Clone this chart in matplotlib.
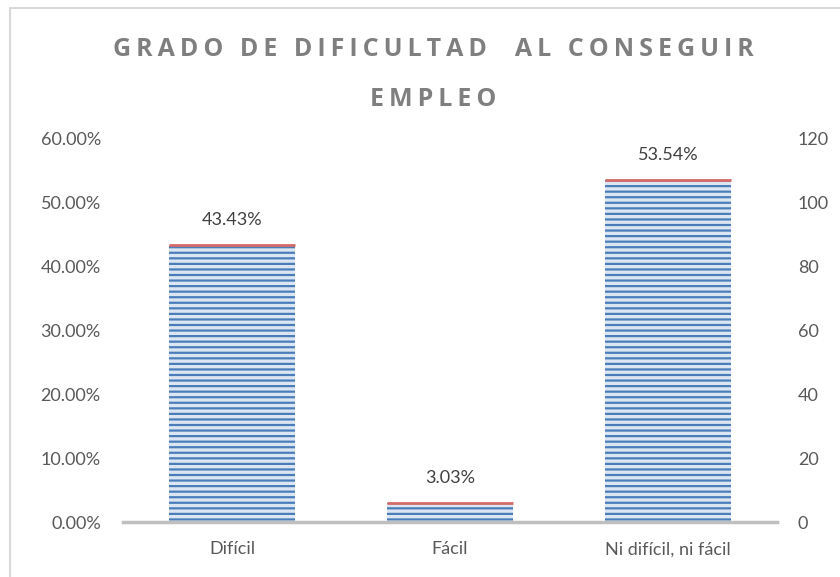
import numpy as np
import matplotlib.pyplot as plt
from matplotlib.patches import Rectangle
from matplotlib.ticker import FuncFormatter

plt.rcParams['font.family'] = ['Lato', 'DejaVu Sans']
plt.rcParams['hatch.linewidth'] = 1.6

categories = ['Difícil', 'Fácil', 'Ni difícil, ni fácil']
percent = [43.43, 3.03, 53.54]
counts = [43, 3, 53]

title_lines = ['GRADO DE DIFICULTAD  AL CONSEGUIR', 'EMPLEO']


def spaced(s):
    # Excel-style letter spacing, faked with thin spaces
    return '\u2009'.join(s)


fig = plt.figure(figsize=(8.4, 5.77), dpi=100)
ax = fig.add_axes([0.1464, 0.0953, 0.7786, 0.6638])

x = np.arange(len(categories))
vals = np.array(percent) / 100
ax.bar(x, vals, width=0.575, color='#dce6f2', edgecolor='#4a7ebb',
       hatch='---', linewidth=0)
ax.hlines(vals, x - 0.2875, x + 0.2875, color='#d46a68', linewidth=2)

for xi, v, p in zip(x, vals, percent):
    ax.annotate('%.2f%%' % p, (xi, v), xytext=(0, 18), textcoords='offset points',
                ha='center', va='center', fontsize=13, color='#404040')

ax.set_xlim(-0.5, 2.5)
ax.set_ylim(0, 0.6)
ax.set_yticks(np.arange(0, 0.61, 0.1))
ax.yaxis.set_major_formatter(FuncFormatter(lambda v, _: '%.2f%%' % (v * 100)))
ax.set_xticks(x)
ax.set_xticklabels(categories)
ax.tick_params(length=0, labelsize=13, labelcolor='#595959')
ax.tick_params(axis='y', pad=16)
ax.tick_params(axis='x', pad=14)
for s in ['top', 'right', 'left']:
    ax.spines[s].set_visible(False)
ax.spines['bottom'].set_color('#bfbfbf')
ax.spines['bottom'].set_linewidth(2.5)

ax2 = ax.twinx()
ax2.set_ylim(0, 120)
ax2.set_yticks(np.arange(0, 121, 20))
ax2.tick_params(length=0, labelsize=13, labelcolor='#595959', pad=15)
for s in ax2.spines.values():
    s.set_visible(False)

fig.text(0.516, 0.915, spaced(title_lines[0]), ha='center', va='center',
         fontsize=18, fontweight='bold', color='#7f7f7f',
         family=['Open Sans', 'DejaVu Sans'])
fig.text(0.516, 0.827, spaced(title_lines[1]), ha='center', va='center',
         fontsize=18, fontweight='bold', color='#7f7f7f',
         family=['Open Sans', 'DejaVu Sans'])

fig.patches.append(Rectangle((10 / 840, -0.02), 1.02, 1 - 8 / 577 + 0.02,
                             transform=fig.transFigure, fill=False,
                             edgecolor='#d9d9d9', linewidth=1.5))

fig.savefig('out.png', dpi=100)
